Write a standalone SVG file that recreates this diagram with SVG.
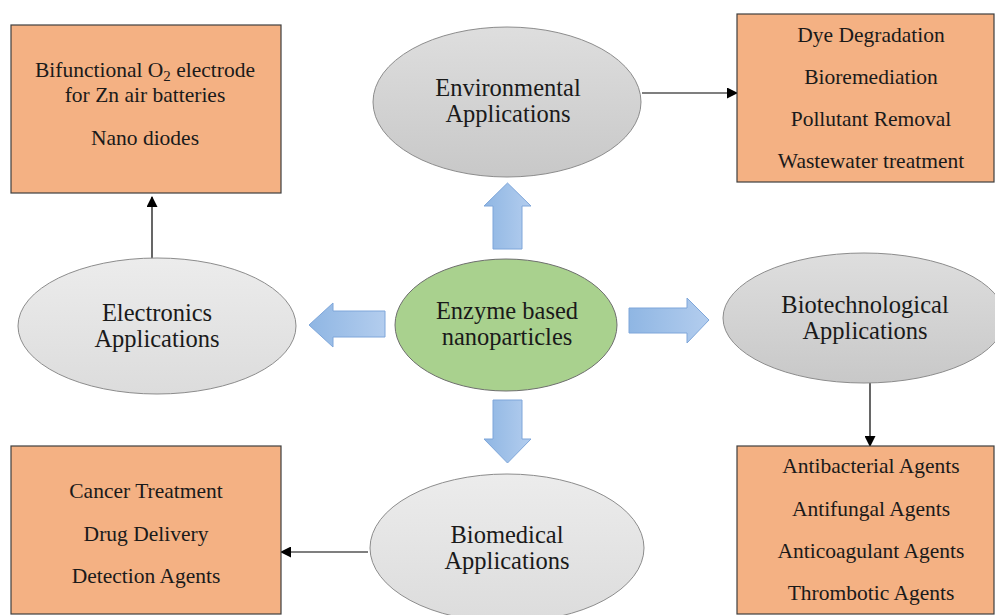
<svg xmlns="http://www.w3.org/2000/svg" width="995" height="615" viewBox="0 0 995 615">
<defs>
<linearGradient id="gGray" x1="0" y1="0" x2="0" y2="1"><stop offset="0" stop-color="#dedede"/><stop offset="1" stop-color="#c8c8c8"/></linearGradient>
<linearGradient id="gLight" x1="0" y1="0" x2="0" y2="1"><stop offset="0" stop-color="#ececec"/><stop offset="1" stop-color="#dcdcdc"/></linearGradient>
<linearGradient id="gBlue" x1="0" y1="0" x2="1" y2="0"><stop offset="0" stop-color="#8fb6e3"/><stop offset="1" stop-color="#b3cdee"/></linearGradient>
<marker id="ah" markerWidth="11" markerHeight="11" refX="10" refY="5.5" orient="auto" markerUnits="userSpaceOnUse"><path d="M0,0 L11,5.5 L0,11 z" fill="#000"/></marker>
<style>
.box{fill:#f4b183;stroke:#3f3f3f;stroke-width:1.2}
.ell{stroke:#8c8c8c;stroke-width:1}
.bt{font-family:'Liberation Serif','Times New Roman',serif;font-size:21.5px;fill:#1a1a1a;text-anchor:middle}
.et{font-family:'Liberation Serif','Times New Roman',serif;font-size:24.5px;fill:#1a1a1a;text-anchor:middle}
.blk{fill:url(#gBlue);stroke:#7ea6da;stroke-width:1}
.con{stroke:#000;stroke-width:1.2;fill:none}
</style>
</defs>
<rect width="995" height="615" fill="#fff"/>

<g id="block-arrows">
<path class="blk" d="M493,249 L493,206 L484,206 L507.5,183 L531,206 L522,206 L522,249 Z"/>
<path class="blk" d="M493,400 L522,400 L522,439 L531,439 L507.5,463 L484,439 L493,439 Z"/>
<path class="blk" d="M385,311 L333,311 L333,303 L309,325 L333,347 L333,337 L385,337 Z"/>
<path class="blk" d="M629,308 L687,308 L687,298 L709,320 L687,343 L687,333 L629,333 Z"/>
</g>

<g id="connectors">
<line class="con" x1="152" y1="262" x2="152" y2="197" marker-end="url(#ah)"/>
<line class="con" x1="642" y1="93" x2="737" y2="93" marker-end="url(#ah)"/>
<line class="con" x1="870" y1="383" x2="870" y2="446" marker-end="url(#ah)"/>
<line class="con" x1="368" y1="552" x2="281" y2="552" marker-end="url(#ah)"/>
</g>

<g id="center">
<ellipse cx="506" cy="325" rx="111" ry="66" fill="#a9d18e" stroke="#6f6f6f" stroke-width="1"/>
<text class="et" x="507" y="319" font-family="Liberation Serif, serif">Enzyme based</text>
<text class="et" x="507" y="345" font-family="Liberation Serif, serif">nanoparticles</text>
</g>

<g id="environmental">
<ellipse class="ell" cx="507" cy="102" rx="134" ry="75" fill="url(#gGray)"/>
<text class="et" x="508" y="96" font-family="Liberation Serif, serif">Environmental</text>
<text class="et" x="508" y="122" font-family="Liberation Serif, serif">Applications</text>
</g>

<g id="electronics">
<ellipse class="ell" cx="157" cy="326" rx="139" ry="68" fill="url(#gLight)"/>
<text class="et" x="157" y="321" font-family="Liberation Serif, serif">Electronics</text>
<text class="et" x="157" y="347" font-family="Liberation Serif, serif">Applications</text>
</g>

<g id="biotechnological">
<ellipse class="ell" cx="864" cy="318" rx="141" ry="65" fill="url(#gGray)"/>
<text class="et" x="865" y="313" font-family="Liberation Serif, serif">Biotechnological</text>
<text class="et" x="865" y="339" font-family="Liberation Serif, serif">Applications</text>
</g>

<g id="biomedical">
<ellipse class="ell" cx="507" cy="548" rx="137" ry="74" fill="url(#gLight)"/>
<text class="et" x="507" y="543" font-family="Liberation Serif, serif">Biomedical</text>
<text class="et" x="507" y="569" font-family="Liberation Serif, serif">Applications</text>
</g>

<g id="electronics-box">
<rect class="box" x="11" y="25" width="270" height="168"/>
<text class="bt" x="145" y="77" font-family="Liberation Serif, serif">Bifunctional O<tspan font-size="15px" dy="4">2</tspan><tspan dy="-4"> electrode</tspan></text>
<text class="bt" x="145" y="102" font-family="Liberation Serif, serif">for Zn air batteries</text>
<text class="bt" x="145" y="145" font-family="Liberation Serif, serif">Nano diodes</text>
</g>

<g id="environmental-box">
<rect class="box" x="737" y="14" width="257" height="168"/>
<text class="bt" x="871" y="42" font-family="Liberation Serif, serif">Dye Degradation</text>
<text class="bt" x="871" y="84" font-family="Liberation Serif, serif">Bioremediation</text>
<text class="bt" x="871" y="126" font-family="Liberation Serif, serif">Pollutant Removal</text>
<text class="bt" x="871" y="168" font-family="Liberation Serif, serif">Wastewater treatment</text>
</g>

<g id="biomedical-box">
<rect class="box" x="11" y="446" width="270" height="168"/>
<text class="bt" x="146" y="498" font-family="Liberation Serif, serif">Cancer Treatment</text>
<text class="bt" x="146" y="541" font-family="Liberation Serif, serif">Drug Delivery</text>
<text class="bt" x="146" y="583" font-family="Liberation Serif, serif">Detection Agents</text>
</g>

<g id="biotech-box">
<rect class="box" x="737" y="446" width="257" height="168"/>
<text class="bt" x="871" y="473" font-family="Liberation Serif, serif">Antibacterial Agents</text>
<text class="bt" x="871" y="516" font-family="Liberation Serif, serif">Antifungal Agents</text>
<text class="bt" x="871" y="558" font-family="Liberation Serif, serif">Anticoagulant Agents</text>
<text class="bt" x="871" y="600" font-family="Liberation Serif, serif">Thrombotic Agents</text>
</g>
</svg>
